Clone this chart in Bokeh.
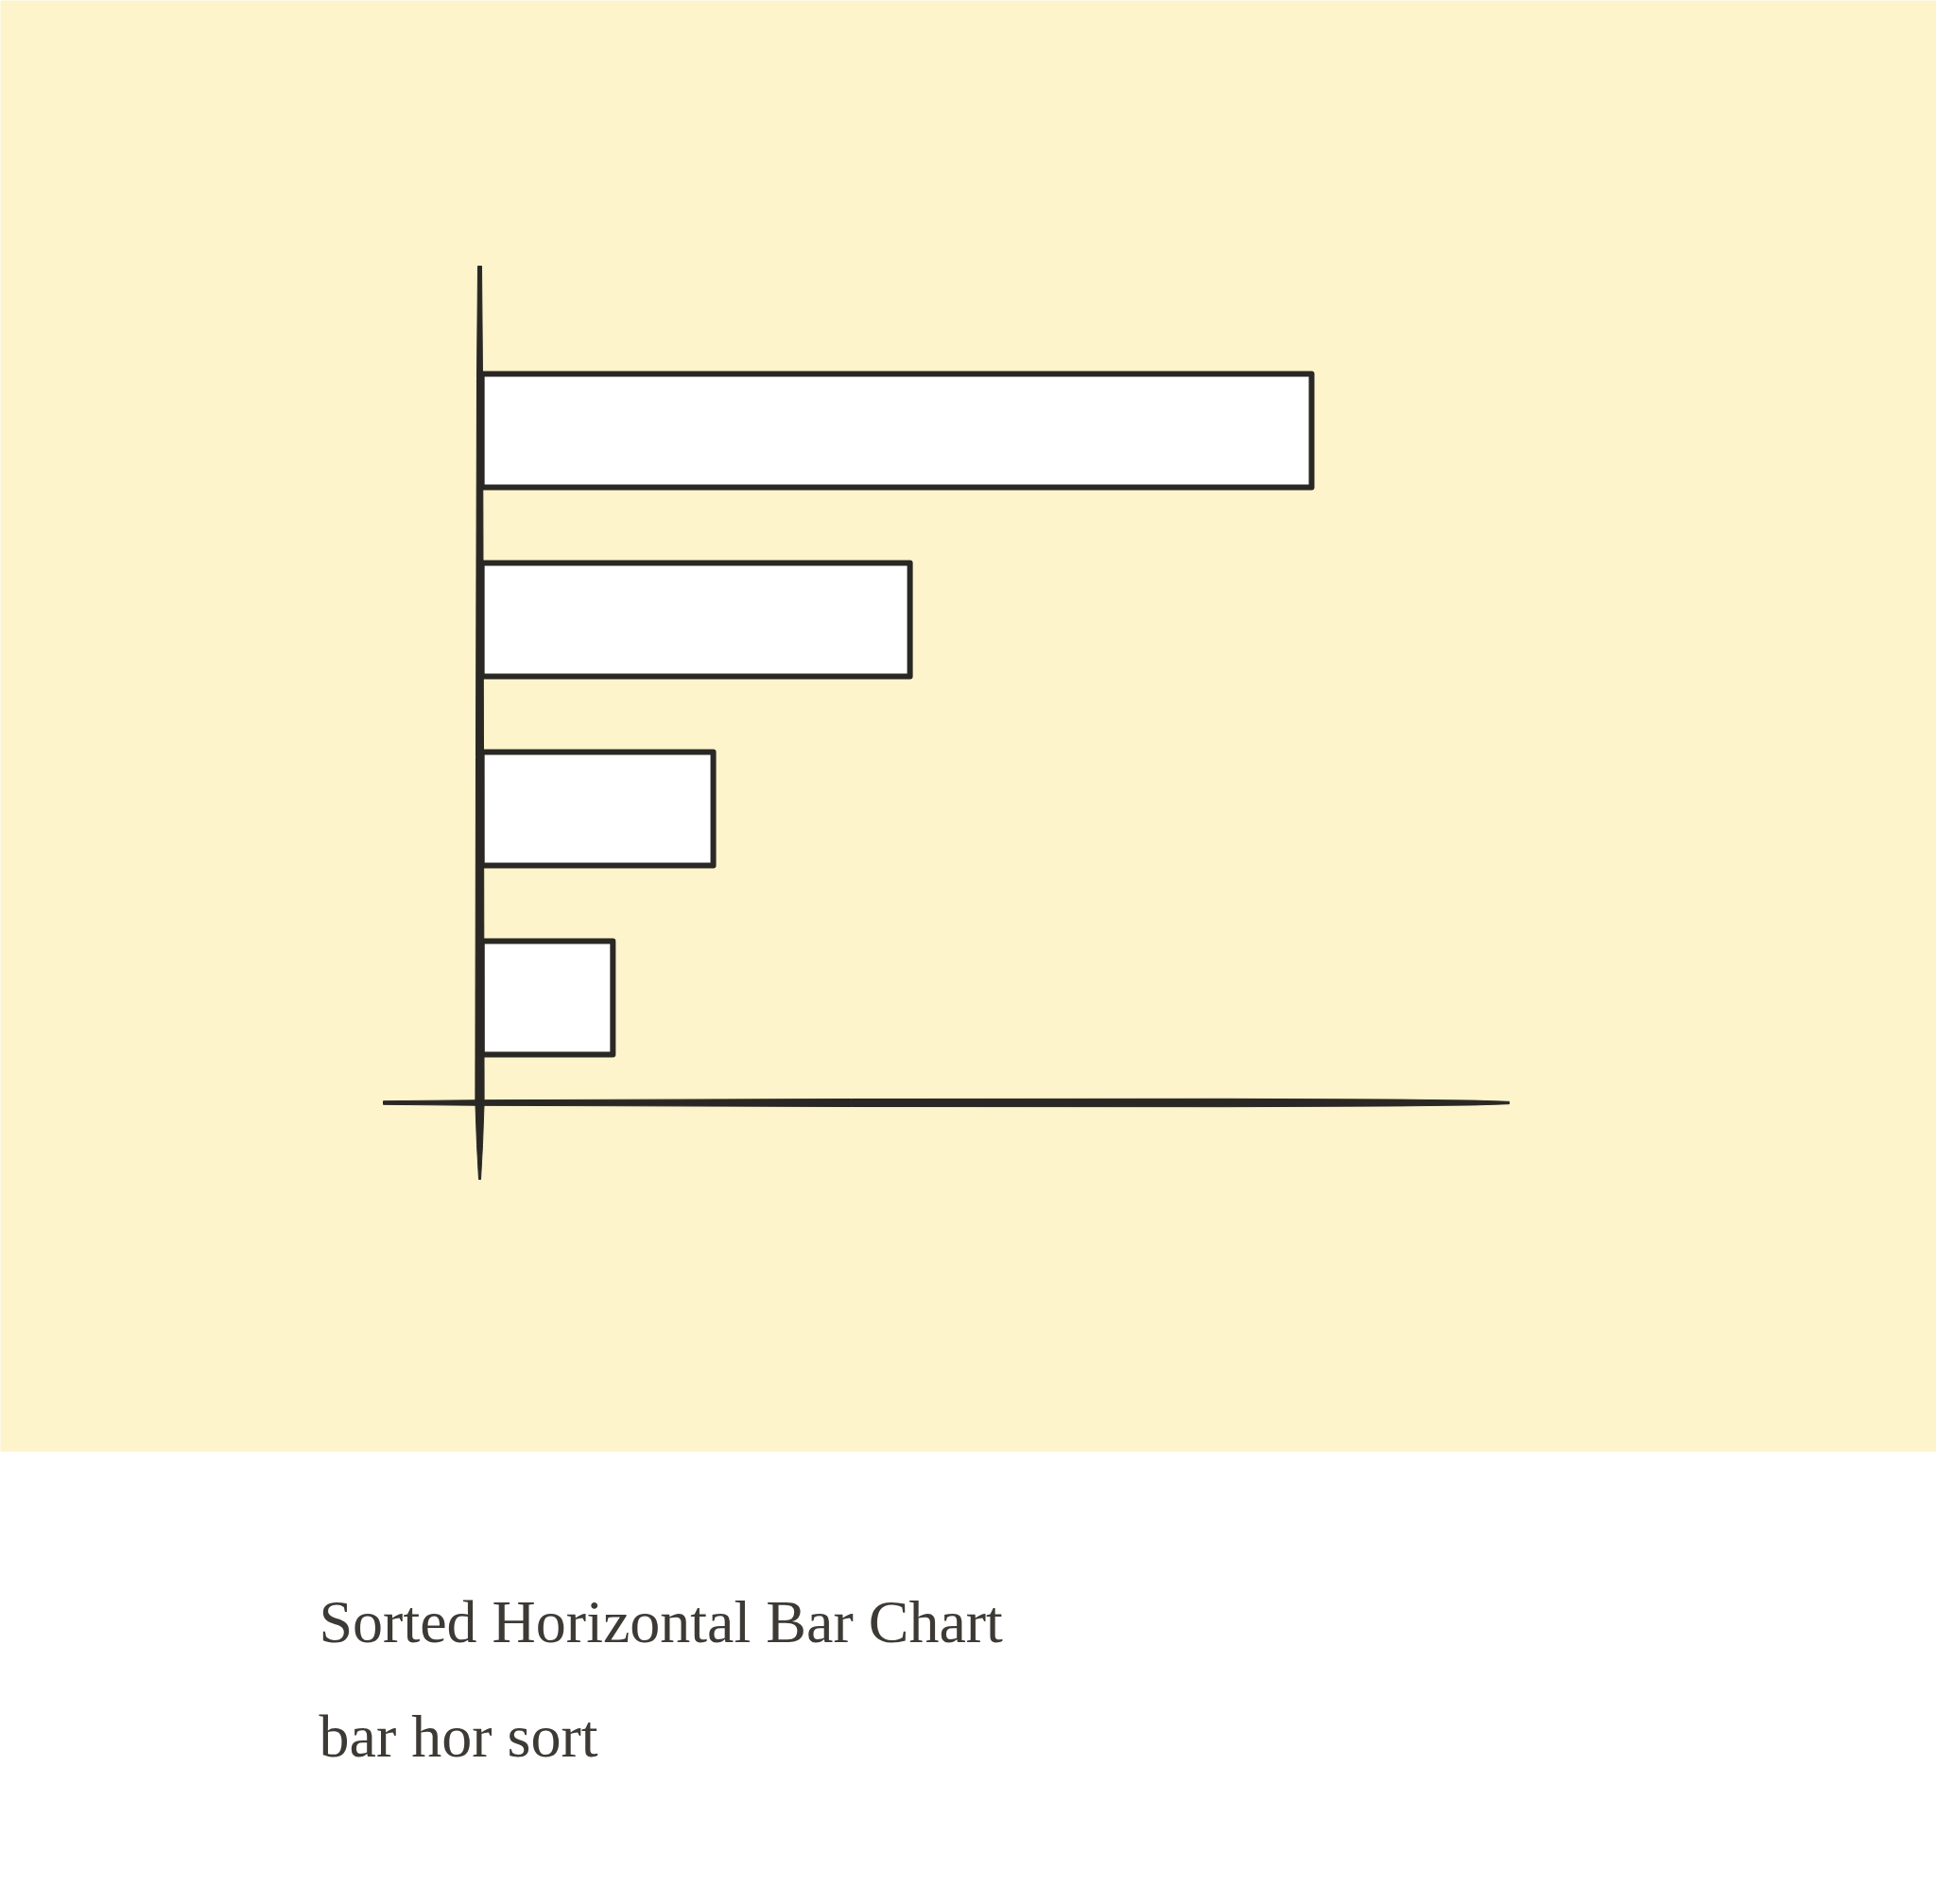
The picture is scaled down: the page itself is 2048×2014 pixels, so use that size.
from bokeh.plotting import figure
from bokeh.models import Range1d, Label
from bokeh.embed import file_html
from bokeh.resources import INLINE

# ---- data ----
categories = ["A", "B", "C", "D"]
values = [100, 51.6, 27.9, 15.8]
ranks = [1, 2, 3, 4]
title_text = "Sorted Horizontal Bar Chart"
subtitle_text = "bar hor sort"

# ---- layout ----
W, H = 2048, 2014
x_start, x_end = -58.0, 175.3
y_start, y_end = 8.795, -1.275   # inverted: rank 1 at top
INK = "#2a2824"
YELLOW = "#fdf4cc"
TEXT = "#3d3a35"

p = figure(width=W, height=H, x_range=Range1d(x_start, x_end),
           y_range=Range1d(y_start, y_end), output_backend="svg",
           toolbar_location=None, min_border=0)
p.axis.visible = False
p.grid.visible = False
p.outline_line_color = None
p.background_fill_color = "white"
p.border_fill_color = "white"

dx = (x_end - x_start) / W          # data units per pixel (x)
dy = (y_start - y_end) / H          # data units per pixel (y, downwards)

def X(px):
    return x_start + px * dx

def Y(py):
    return y_end + py * dy

# yellow panel
p.quad(left=X(-10), right=X(W + 10), top=Y(-10), bottom=Y(1535),
       fill_color=YELLOW, line_color=None)

# bars
p.hbar(y=ranks, left=0, right=values, height=0.6, fill_color="white",
       line_color=INK, line_width=6, line_join="round")

# hand-drawn vertical axis (tapered)
xc = X(507)
vpts = [(281, 2.0), (400, 3.0), (800, 4.0), (1166, 4.6), (1210, 3.0), (1247, 1.0)]
vx = [xc - hw * dx for _, hw in vpts] + [xc + hw * dx for _, hw in reversed(vpts)]
vy = [Y(py) for py, _ in vpts] + [Y(py) for py, _ in reversed(vpts)]
p.patch(vx, vy, fill_color=INK, line_color=INK, line_width=1)

# hand-drawn horizontal axis (tapered)
yc = Y(1166)
hpts = [(405, 1.8), (509, 2.8), (900, 4.0), (1300, 4.2), (1480, 3.4), (1560, 2.4), (1596, 1.2)]
hx = [X(px) for px, _ in hpts] + [X(px) for px, _ in reversed(hpts)]
hy = [yc - hw * dy for _, hw in hpts] + [yc + hw * dy for _, hw in reversed(hpts)]
p.patch(hx, hy, fill_color=INK, line_color=INK, line_width=1)

# texts
p.add_layout(Label(x=X(337), y=Y(1715), text=title_text,
                   text_font="Liberation Serif", text_font_size="64px",
                   text_color=TEXT, text_baseline="alphabetic"))
p.add_layout(Label(x=X(337), y=Y(1836), text=subtitle_text,
                   text_font="Liberation Serif", text_font_size="64px",
                   text_color=TEXT, text_baseline="alphabetic"))

open("out.html", "w").write(file_html(p, INLINE))
